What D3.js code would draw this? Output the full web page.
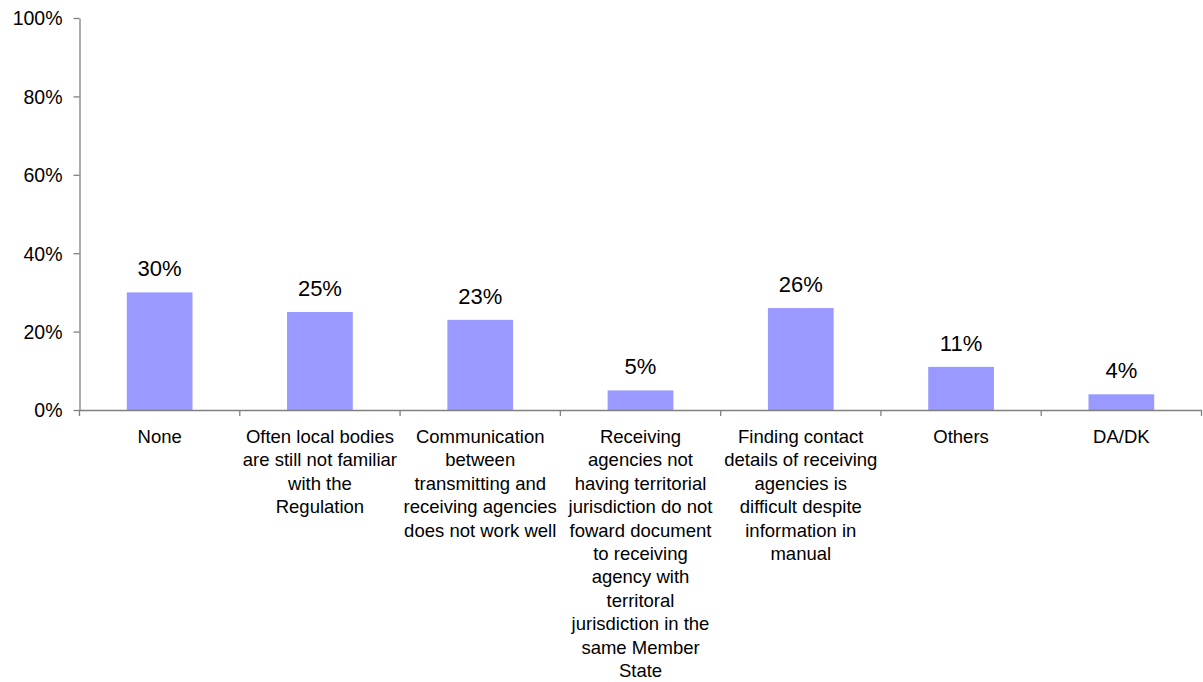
<!DOCTYPE html>
<html lang="en">
<head>
    <meta charset="UTF-8">
    <title>Problems with receiving agencies</title>
    <script src="https://cdnjs.cloudflare.com/ajax/libs/d3/7.8.5/d3.min.js"></script>
    <style>
        body {
            margin: 0;
            background: #fff;
        }

        svg text {
            font-family: "Liberation Sans", Arial, sans-serif;
            fill: #000;
        }

        .axis path,
        .axis line {
            stroke: #808080;
            stroke-width: 1.3px;
        }

        .bar {
            fill: #9999ff;
        }

        .value-label {
            font-size: 22px;
            text-anchor: middle;
        }

        .cat-label {
            font-size: 18.5px;
            text-anchor: middle;
        }
    </style>
</head>
<body>
    <div class="chart"></div>
    <script>
        // category labels, already broken into lines as in the picture
        var categories = ["None", "Often local bodies", "Communication", "Receiving agencies",
            "Finding contact", "Others", "DA/DK"];
        var categoryLines = [
            ["None"],
            ["Often local bodies", "are still not familiar", "with the", "Regulation"],
            ["Communication", "between", "transmitting and", "receiving agencies", "does not work well"],
            ["Receiving", "agencies not", "having territorial", "jurisdiction do not", "foward document",
                "to receiving", "agency with", "territoral", "jurisdiction in the", "same Member", "State"],
            ["Finding contact", "details of receiving", "agencies is", "difficult despite", "information in", "manual"],
            ["Others"],
            ["DA/DK"]
        ];
        var values = [0.30, 0.25, 0.23, 0.05, 0.26, 0.11, 0.04];
        var yTicks = [0, 0.2, 0.4, 0.6, 0.8, 1.0];

        var width = 1203,
            height = 682;
        var plotLeft = 79.5,
            plotRight = 1201.5,
            plotTop = 18,
            plotBottom = 410;

        var svg = d3.select(".chart").append("svg")
            .attr("width", width)
            .attr("height", height);

        var x = d3.scaleBand()
            .domain(categories)
            .range([plotLeft, plotRight])
            .padding(0);
        var y = d3.scaleLinear()
            .domain([0, 1])
            .range([plotBottom, plotTop]);

        var barWidth = x.bandwidth() * 0.41;

        // y axis
        var yAxis = svg.append("g")
            .attr("class", "axis axis--y")
            .attr("transform", "translate(" + plotLeft + ",0)")
            .call(d3.axisLeft(y)
                .tickValues(yTicks)
                .tickSize(6)
                .tickSizeOuter(0)
                .tickPadding(11)
                .tickFormat(d3.format(".0%")));
        yAxis.selectAll("text")
            .style("font-size", "19.5px")
            .attr("dy", "0.35em");

        // x axis line, ticks go between the categories
        var xAxis = svg.append("g")
            .attr("class", "axis axis--x")
            .attr("transform", "translate(0," + plotBottom + ")")
            .call(d3.axisBottom(x).tickSize(0).tickSizeOuter(0).tickFormat(""));

        var bounds = categories.map(function(d) {
            return x(d);
        });
        bounds.push(plotRight);
        xAxis.selectAll(".sep")
            .data(bounds)
            .enter()
            .append("line")
            .attr("class", "sep")
            .attr("x1", function(d) { return d; })
            .attr("x2", function(d) { return d; })
            .attr("y1", 0)
            .attr("y2", 6);

        // bars
        svg.selectAll(".bar")
            .data(values)
            .enter()
            .append("rect")
            .attr("class", "bar")
            .attr("x", function(d, i) {
                return x(categories[i]) + x.bandwidth() / 2 - barWidth / 2;
            })
            .attr("y", function(d) { return y(d); })
            .attr("width", barWidth)
            .attr("height", function(d) { return y(0) - y(d); });

        // keep the x axis on top of the bars
        xAxis.raise();

        svg.selectAll(".value-label")
            .data(values)
            .enter()
            .append("text")
            .attr("class", "value-label")
            .attr("x", function(d, i) {
                return x(categories[i]) + x.bandwidth() / 2;
            })
            .attr("y", function(d) { return y(d) - 16; })
            .text(function(d) { return Math.round(d * 100) + "%"; });

        // category labels
        var cats = svg.selectAll(".cat-label")
            .data(categoryLines)
            .enter()
            .append("text")
            .attr("class", "cat-label")
            .attr("transform", function(d, i) {
                return "translate(" + (x(categories[i]) + x.bandwidth() / 2) + "," + (plotBottom + 33) + ")";
            });
        cats.selectAll("tspan")
            .data(function(d) { return d; })
            .enter()
            .append("tspan")
            .attr("x", 0)
            .attr("y", function(d, i) { return i * 23.4; })
            .text(function(d) { return d; });
    </script>
</body>
</html>
